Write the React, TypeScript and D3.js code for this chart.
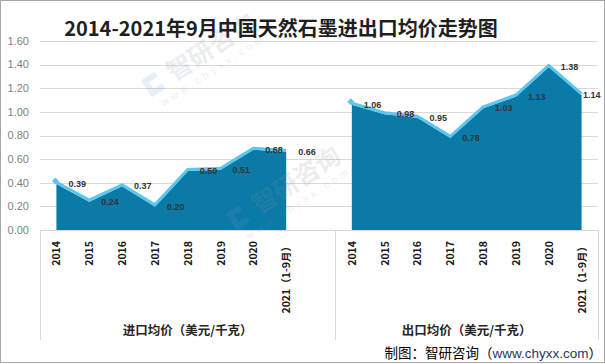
import React, { useEffect, useRef } from 'react';
import * as d3 from 'd3';

const years = ['2014', '2015', '2016', '2017', '2018', '2019', '2020', '2021（1-9月）'];
const importPrice = [0.39, 0.24, 0.37, 0.2, 0.5, 0.51, 0.68, 0.66];
const exportPrice = [1.06, 0.98, 0.95, 0.78, 1.03, 1.13, 1.38, 1.14];
const groupNames = ['进口均价（美元/千克）', '出口均价（美元/千克）'];
const yTicks = [0, 0.2, 0.4, 0.6, 0.8, 1.0, 1.2, 1.4, 1.6];
const title = '2014-2021年9月中国天然石墨进出口均价走势图';

const LATIN = "'Liberation Sans', Arial, sans-serif";
const CJK = "'Microsoft YaHei', 'Noto Sans CJK SC', sans-serif";

export default function App() {
  const ref = useRef<SVGSVGElement>(null);

  useEffect(() => {
    const W = 605;
    const H = 364;
    const margin = { top: 41, right: 7, bottom: 134, left: 40 };

    const svg = d3.select(ref.current);
    svg.selectAll('*').remove();
    svg.attr('width', W).attr('height', H);

    svg.append('rect').attr('width', W).attr('height', H).style('fill', '#fff');

    // one band per category, with an empty band between the two groups
    const keys = [...years.map(y => '进口|' + y), 'gap', ...years.map(y => '出口|' + y)];
    const x = d3.scaleBand().domain(keys).range([margin.left, W - margin.right]);
    const cx = (k: string) => (x(k) as number) + x.bandwidth() / 2;
    const y = d3.scaleLinear().domain([0, 1.6]).range([H - margin.bottom, margin.top]);

    // gridlines
    svg.append('g')
      .selectAll('line')
      .data(yTicks.slice(1))
      .enter().append('line')
      .attr('x1', margin.left).attr('x2', W - margin.right)
      .attr('y1', d => Math.round(y(d)) + 0.5).attr('y2', d => Math.round(y(d)) + 0.5)
      .style('stroke', '#d9d9d9');

    // y tick labels
    svg.append('g')
      .selectAll('text')
      .data(yTicks)
      .enter().append('text')
      .attr('x', 29)
      .attr('y', d => y(d))
      .attr('dy', '0.35em')
      .attr('text-anchor', 'end')
      .text(d => d3.format('.2f')(d))
      .style('font-family', LATIN)
      .style('font-size', '11px')
      .style('fill', '#7f7f7f');

    const series = [
      { prefix: '进口', values: importPrice },
      { prefix: '出口', values: exportPrice },
    ];

    series.forEach(s => {
      const px = (i: number) => cx(s.prefix + '|' + years[i]);
      const area = d3.area<number>()
        .x((d, i) => px(i))
        .y0(y(0))
        .y1(d => y(d));
      const line = d3.line<number>()
        .x((d, i) => px(i))
        .y(d => y(d));

      svg.append('path')
        .attr('d', area(s.values))
        .style('fill', '#0b7aa7');

      svg.append('path')
        .attr('d', line(s.values))
        .attr('transform', 'translate(0,-1.5)')
        .style('fill', 'none')
        .style('stroke', '#5dc6ef')
        .style('stroke-width', 3)
        .style('stroke-linejoin', 'round');

      // little marker on first point
      svg.append('rect')
        .attr('x', -2.5).attr('y', -2.5).attr('width', 5).attr('height', 5)
        .attr('transform', `translate(${px(0) - 1},${y(s.values[0]) - 3}) rotate(45)`)
        .style('fill', '#5dc6ef');

      // labels sit right of the point, kept inside the chart
      svg.append('g')
        .selectAll('text')
        .data(s.values)
        .enter().append('text')
        .attr('x', (d, i) => Math.min(px(i) + 12, 583))
        .attr('y', d => y(d))
        .attr('dy', '0.35em')
        .text(d => d3.format('.2f')(d))
        .style('font-family', LATIN)
        .style('font-weight', 'bold')
        .style('font-size', '9px')
        .style('fill', '#333');
    });

    // category axis with group boxes
    const base = H - margin.bottom;
    svg.append('line')
      .attr('x1', margin.left).attr('x2', W - margin.right)
      .attr('y1', base + 0.5).attr('y2', base + 0.5)
      .style('stroke', '#d9d9d9');
    const sep = (x('gap') as number) + x.bandwidth();
    [margin.left, sep, W - margin.right].forEach(v => {
      svg.append('line')
        .attr('x1', Math.round(v) + 0.5).attr('x2', Math.round(v) + 0.5)
        .attr('y1', base).attr('y2', 340)
        .style('stroke', '#d9d9d9');
    });

    keys.filter(k => k !== 'gap').forEach(k => {
      svg.append('text')
        .attr('transform', `translate(${cx(k) + 4},241) rotate(-90)`)
        .attr('text-anchor', 'end')
        .text(k.split('|')[1])
        .style('font-family', CJK)
        .style('font-weight', 'bold')
        .style('font-size', '10.5px')
        .style('fill', '#1a1a1a');
    });

    const groupCenters = [(margin.left + sep) / 2, (sep + W - margin.right) / 2];
    groupNames.forEach((g, i) => {
      svg.append('text')
        .attr('x', groupCenters[i])
        .attr('y', 331)
        .attr('dy', '0.35em')
        .attr('text-anchor', 'middle')
        .text(g)
        .style('font-family', CJK)
        .style('font-weight', 'bold')
        .style('font-size', '12.5px')
        .style('fill', '#262626');
    });

    // faint watermarks, only the ones that sit fully inside
    const wmA = [85, 133];
    const wmSpots = [0, 1];
    wmSpots.forEach(a => {
      const wx = 154 + a * wmA[0];
      const wy = 84 + a * wmA[1];
      const wm = svg.append('g')
        .attr('transform', `translate(${wx},${wy}) rotate(-33)`)
        .style('opacity', 0.16);
      wm.append('path')
        .attr('d', 'M-9,-10 h16 v6 h-10 v8 h10 v6 h-16 z')
        .style('fill', '#6f98cc');
      wm.append('text')
        .attr('x', 18).attr('y', 9)
        .text('智研咨询')
        .style('font-family', CJK)
        .style('font-weight', 'bold')
        .style('font-size', '25px')
        .style('fill', '#8a96a6');
      wm.append('text')
        .attr('x', -4).attr('y', 24)
        .text('www.chyxx.com')
        .style('font-family', LATIN)
        .style('font-size', '10px')
        .style('letter-spacing', '4px')
        .style('fill', '#8a96a6');
    });

    // title
    svg.append('text')
      .attr('x', 281)
      .attr('y', 29)
      .attr('dy', '0.35em')
      .attr('text-anchor', 'middle')
      .text(title)
      .style('font-family', CJK)
      .style('font-weight', 'bold')
      .style('font-size', '20px')
      .style('fill', '#1f1f1f');

    // source
    const src = svg.append('text')
      .attr('x', 602)
      .attr('y', 353)
      .attr('dy', '0.35em')
      .attr('text-anchor', 'end')
      .style('font-family', CJK)
      .style('font-size', '13.5px')
      .style('fill', '#000');
    src.append('tspan').text('制图：智研咨询（');
    src.append('tspan').text('www.chyxx.com').style('fill', '#1f3864').style('font-family', LATIN);
    src.append('tspan').text('）');

    svg.append('rect')
      .attr('x', 0.5).attr('y', 0.5).attr('width', W - 1).attr('height', H - 2)
      .style('fill', 'none')
      .style('stroke', '#a6a6a6');
  }, []);

  return (
    <div style={{ position: 'absolute', left: 0, top: 0 }}>
      <svg ref={ref} style={{ display: 'block' }} />
    </div>
  );
}
